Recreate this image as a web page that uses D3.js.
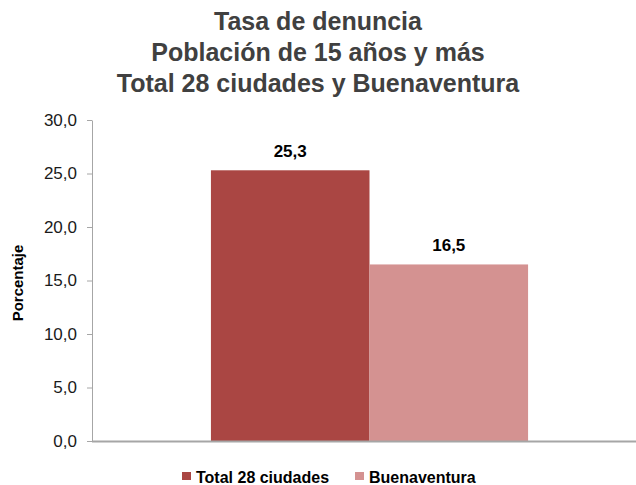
<!DOCTYPE html>
<html><head><meta charset="utf-8">
<script src="https://cdn.jsdelivr.net/npm/d3@7"></script>
<style>body{margin:0;background:#fff}svg{display:block;font-family:"Liberation Sans",Arial,sans-serif}</style>
</head><body><svg id="c" width="636" height="485"></svg>
<script>
const titleLines = ["Tasa de denuncia", "Población de 15 años y más", "Total 28 ciudades y Buenaventura"];
const categories = ["Tasa de denuncia"];
const seriesNames = ["Total 28 ciudades", "Buenaventura"];
const seriesValues = [25.3, 16.5];
const seriesColors = ["#AA4643", "#D49291"];
const yTicks = [0, 5, 10, 15, 20, 25, 30];
const yLabel = "Porcentaje";

const svg = d3.select("#c");
const fmt = v => d3.format(".1f")(v).replace(".", ",");

svg.append("g").selectAll("text").data(titleLines).join("text")
  .attr("x", 318).attr("y", (d, i) => 30 + i * 31)
  .attr("text-anchor", "middle").attr("font-size", 25).attr("font-weight", "bold")
  .attr("fill", "#404040").text(d => d);

const y = d3.scaleLinear().domain([0, 30]).range([441, 120]);
const x = d3.scaleBand().domain(categories).range([92, 647]).paddingInner(0).paddingOuter(0.375);
const xs = d3.scaleBand().domain(seriesNames).range([0, x.bandwidth()]);

// axes
const ya = svg.append("g").attr("transform", "translate(92,0)")
  .call(d3.axisLeft(y).tickValues(yTicks).tickSize(5).tickSizeOuter(0).tickFormat(fmt));
ya.select(".domain").attr("stroke", "#a6a6a6");
ya.selectAll(".tick line").attr("stroke", "#a6a6a6");
ya.selectAll(".tick text").attr("font-size", 17).attr("fill", "#1a1a1a").attr("x", -15)
  .attr("font-family", "Liberation Sans, Arial, sans-serif");

svg.append("text").attr("transform", "translate(23,283) rotate(-90)")
  .attr("text-anchor", "middle").attr("font-size", 15).attr("font-weight", "bold")
  .attr("fill", "#000").text(yLabel);

// bars
const data = seriesNames.map((s, i) => ({ s, v: seriesValues[i], c: seriesColors[i], cat: categories[0] }));
svg.append("g").selectAll("rect").data(data).join("rect")
  .attr("x", d => x(d.cat) + xs(d.s)).attr("width", xs.bandwidth())
  .attr("y", d => y(d.v)).attr("height", d => y(0) - y(d.v))
  .attr("fill", d => d.c);

svg.append("g").selectAll("text").data(data).join("text")
  .attr("x", d => x(d.cat) + xs(d.s) + xs.bandwidth() / 2)
  .attr("y", d => y(d.v) - 13)
  .attr("text-anchor", "middle").attr("font-size", 17).attr("font-weight", "bold")
  .attr("fill", "#000").text(d => fmt(d.v));

// x axis line
svg.append("line").attr("x1", 92).attr("x2", 636).attr("y1", y(0) + 0.5).attr("y2", y(0) + 0.5)
  .attr("stroke", "#a6a6a6").attr("stroke-width", 2);

// legend
const legX = [182, 355];
const lg = svg.append("g").selectAll("g").data(data).join("g")
  .attr("transform", (d, i) => `translate(${legX[i]},472)`);
lg.append("rect").attr("width", 9).attr("height", 8).attr("fill", d => d.c);
lg.append("text").attr("x", 14).attr("y", 11).attr("font-size", 16).attr("font-weight", "bold")
  .attr("fill", "#000").text(d => d.s);
</script></body></html>
